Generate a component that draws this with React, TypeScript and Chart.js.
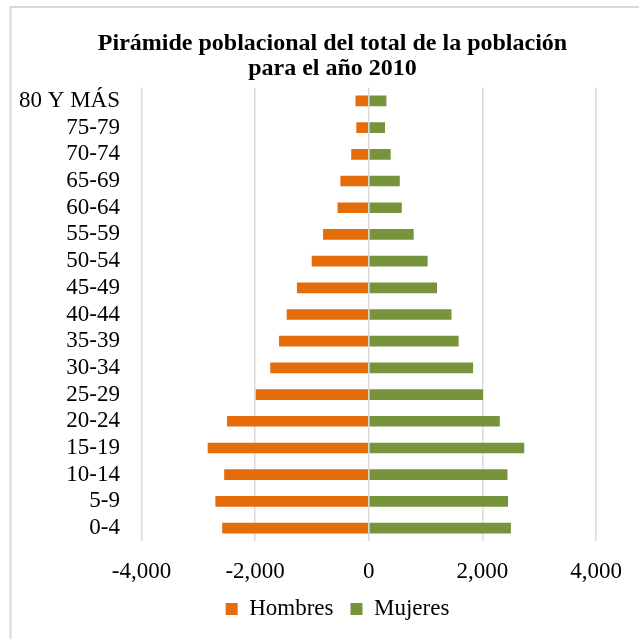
import React, { useEffect, useRef } from 'react';
import { Chart, registerables } from 'chart.js';

Chart.register(...registerables);

const categories = ['0-4', '5-9', '10-14', '15-19', '20-24', '25-29', '30-34', '35-39', '40-44', '45-49', '50-54', '55-59', '60-64', '65-69', '70-74', '75-79', '80 Y MÁS'];
const hombres = [2580, 2700, 2545, 2835, 2495, 1990, 1735, 1580, 1445, 1265, 1005, 805, 550, 500, 310, 220, 235];
const mujeres = [2500, 2450, 2440, 2735, 2305, 2010, 1835, 1580, 1455, 1200, 1035, 790, 580, 545, 385, 285, 310];
const xMin = -4000;
const xMax = 4000;
const xStep = 2000;
const titleLines = ['Pirámide poblacional del total de la población', 'para el año 2010'];
const seriesNames = ['Hombres', 'Mujeres'];
const seriesColors = ['#E46C0A', '#77933C'];

const FONT = "'Liberation Serif', 'Times New Roman', serif";

const frame = {
  id: 'frame',
  beforeDraw(chart: any) {
    const ctx = chart.ctx;
    ctx.save();
    ctx.fillStyle = '#ffffff';
    ctx.fillRect(0, 0, chart.width, chart.height);
    ctx.strokeStyle = '#d9d9d9';
    ctx.lineWidth = 2;
    ctx.beginPath();
    ctx.moveTo(10.5, chart.height + 5);
    ctx.lineTo(10.5, 7);
    ctx.lineTo(chart.width + 5, 7);
    ctx.stroke();
    ctx.restore();
  },
};

const boxPlace = {
  id: 'boxPlace',
  afterLayout(chart: any) {
    const lg = chart.legend;
    if (lg) {
      lg.left = 78;
      lg.right = 597;
      lg.width = lg.right - lg.left;
      lg.top = 580.5;
      lg.bottom = lg.top + lg.height;
    }
    const tt = chart.titleBlock;
    if (tt) {
      tt.left = 68;
      tt.right = 597;
      tt.width = tt.right - tt.left;
    }
  },
};

export default function App() {
  const ref = useRef<HTMLCanvasElement | null>(null);
  useEffect(() => {
    if (!ref.current) return;
    const chart = new Chart(ref.current, {
      type: 'bar',
      data: {
        labels: categories,
        datasets: [
          {
            label: seriesNames[0],
            data: hombres.map((v) => -v),
            backgroundColor: seriesColors[0],
            barPercentage: 0.4,
            categoryPercentage: 1,
          },
          {
            label: seriesNames[1],
            data: mujeres,
            backgroundColor: seriesColors[1],
            barPercentage: 0.4,
            categoryPercentage: 1,
          },
        ],
      },
      options: {
        indexAxis: 'y',
        responsive: false,
        animation: false,
        layout: { padding: { top: 0, left: 0, right: 42, bottom: 2.6 } },
        plugins: {
          title: {
            display: true,
            text: titleLines,
            color: '#000',
            font: { family: FONT, size: 24, weight: 'bold', lineHeight: 1.05 },
            padding: { top: 31, bottom: 6.2 },
          },
          legend: {
            position: 'bottom',
            labels: {
              boxWidth: 12,
              boxHeight: 12,
              padding: 17,
              color: '#000',
              font: { family: FONT, size: 23 },
            },
          },
          tooltip: { enabled: false },
        },
        scales: {
          x: {
            stacked: true,
            min: xMin,
            max: xMax,
            grid: { color: '#d9d9d9', lineWidth: 1.5, drawTicks: false },
            border: { display: false },
            ticks: {
              stepSize: xStep,
              padding: 17,
              color: '#000',
              font: { family: FONT, size: 23 },
              callback: (v: any) => Number(v).toLocaleString('en-US'),
            },
            afterFit: (s: any) => { s.height = 45; },
          },
          y: {
            stacked: true,
            reverse: true,
            grid: { display: false, drawTicks: false },
            border: { display: false },
            ticks: {
              padding: 21.5,
              color: '#000',
              font: { family: FONT, size: 23 },
              autoSkip: false,
            },
            afterFit: (s: any) => { s.width = 141.5; },
          },
        },
      },
      plugins: [frame, boxPlace],
    });
    return () => chart.destroy();
  }, []);
  return (
    <div style={{ position: 'fixed', left: 0, top: 0, width: 639, height: 639 }}>
      <canvas ref={ref} width={639} height={639} style={{ display: 'block' }} />
    </div>
  );
}
